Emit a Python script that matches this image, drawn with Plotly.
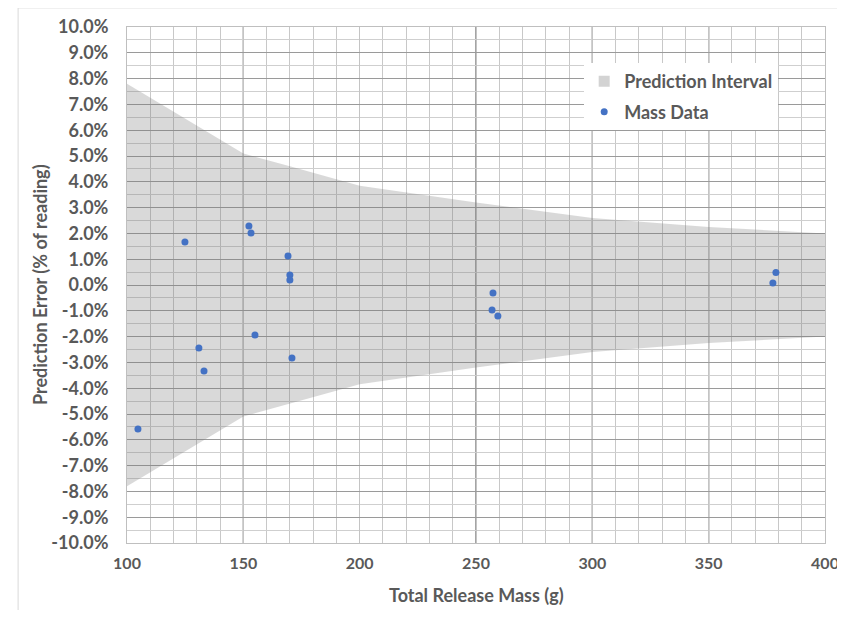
import plotly.graph_objects as go

# Prediction interval boundaries, in % of reading
band_x = [100, 150, 170, 200, 250, 300, 350, 400]
band_upper = [7.8, 5.1, 4.6, 3.85, 3.2, 2.6, 2.25, 2.0]
band_lower = [-7.8, -5.1, -4.6, -3.85, -3.2, -2.6, -2.25, -2.0]

# Mass data points
mass_x = [104.7, 124.9, 130.9, 133.1, 152.4, 153.3, 155.0, 169.2, 170.0, 170.0,
          170.9, 257.3, 256.9, 259.4, 378.9, 377.6]
mass_err = [-5.58, 1.67, -2.44, -3.33, 2.29, 2.02, -1.94, 1.12, 0.39, 0.19,
            -2.83, -0.31, -0.97, -1.20, 0.48, 0.08]

y_ticks = [v / 10 for v in range(-100, 101, 10)]
x_ticks = [100, 150, 200, 250, 300, 350, 400]
dark_vlines = [150, 250, 300, 350]  # gridlines that render darker in the original

txt = "#595959"
ff = "Lato"
band_fill = "rgba(120,120,120,0.28)"

fig = go.Figure()
fig.add_trace(go.Scatter(
    x=band_x + band_x[::-1],
    y=band_upper + band_lower[::-1],
    fill="toself", mode="lines", line=dict(width=0),
    fillcolor=band_fill, showlegend=False, hoverinfo="skip"))
# legend-only entry with a small square swatch
fig.add_trace(go.Scatter(
    x=[None], y=[None], mode="markers",
    marker=dict(symbol="square", color="#d3d3d3", size=11),
    name="Prediction Interval", legendgroup="a"))
fig.add_trace(go.Scatter(
    x=mass_x, y=mass_err, mode="markers",
    marker=dict(color="#4472C4", size=7),
    name="Mass Data", legendgroup="b"))

shapes = [dict(type="rect", xref="paper", yref="paper",
               x0=-0.156, x1=1.022, y0=-0.14, y1=1.037,
               line=dict(color="#d9d9d9", width=1), layer="below")]
for xv in dark_vlines:
    shapes.append(dict(type="line", xref="x", yref="paper", x0=xv, x1=xv,
                       y0=0, y1=1, line=dict(color="#747474", width=1.3),
                       layer="between"))

fig.update_layout(
    width=837, height=602,
    margin=dict(l=119, r=20, t=19, b=67),
    paper_bgcolor="white", plot_bgcolor="white",
    font=dict(family=ff, color=txt, size=18),
    showlegend=True,
    legend=dict(x=0.655, y=0.93, xanchor="left", yanchor="top",
                bgcolor="white", borderwidth=0,
                font=dict(family=ff, size=18, color=txt, weight="bold"),
                traceorder="grouped", tracegroupgap=4, itemwidth=30),
    shapes=shapes,
    annotations=[
        dict(text="Prediction Error (% of reading)", xref="paper", yref="paper",
             x=-0.1246, y=0.5, xanchor="center", yanchor="middle",
             textangle=-90, showarrow=False,
             font=dict(family=ff, size=18, color=txt, weight="bold")),
        dict(text="Total Release Mass (g)", xref="paper", yref="paper",
             x=0.5, y=-0.1008, xanchor="center", yanchor="middle",
             showarrow=False,
             font=dict(family=ff, size=18, color=txt, weight="bold")),
    ],
)
fig.update_xaxes(
    range=[100, 400], tickmode="array", tickvals=x_ticks,
    ticktext=[str(v) for v in x_ticks],
    gridcolor="#c4c4c4", gridwidth=1,
    minor=dict(dtick=10, tick0=100, gridcolor="#c8c8c8", showgrid=True),
    showline=True, linecolor="#bfbfbf", mirror=True,
    zeroline=False, ticks="", automargin=False, ticklabelstandoff=6,
    ticklabeloverflow="allow",
    tickfont=dict(family=ff, size=16, color=txt, weight="bold"),
)
fig.update_yaxes(
    range=[-10, 10], tickmode="array", tickvals=y_ticks,
    ticktext=[f"{v:.1f}%" for v in y_ticks],
    gridcolor="#9a9a9a", gridwidth=1,
    minor=dict(dtick=0.5, gridcolor="#cfcfcf", showgrid=True),
    showline=True, linecolor="#bfbfbf", mirror=True,
    zeroline=False, ticks="", automargin=False, ticklabelstandoff=14,
    tickfont=dict(family=ff, size=18, color=txt, weight="bold"),
)

fig.write_html("out.html")
